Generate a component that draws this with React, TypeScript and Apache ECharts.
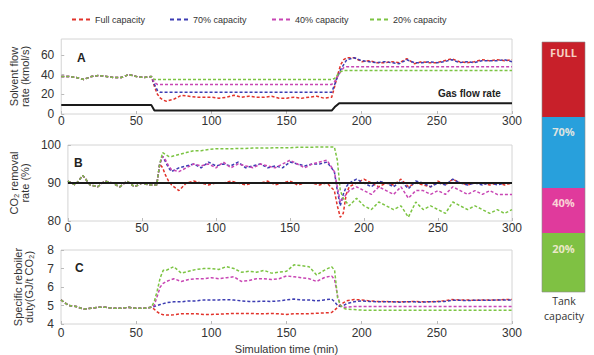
import React, { useEffect, useRef } from "react";
import * as echarts from "echarts";

// time axis (min)
const T_PRE = [0, 5, 10, 15, 20, 25, 30, 35, 40, 45, 50, 55, 60];
const T_ON = [62, 64, 66, 68, 70, 75, 80, 85, 90, 95, 100, 105, 110, 115, 120, 125, 130, 135, 140, 145, 150, 155, 160, 165, 170, 175, 180];
const T_OFF = [182, 184, 186, 188, 190, 195, 200, 205, 210, 215, 220, 225, 230, 235, 240, 245, 250, 255, 260, 265, 270, 275, 280, 285, 290, 295, 300];

const NAMES = ["Full capacity", "70% capacity", "40% capacity", "20% capacity"];
const COLORS = ["#e2332b", "#3d3db3", "#c846b4", "#7cc443"];

// Panel A: solvent flow rate (kmol/s)
const PRE_A = [38, 38, 37, 35, 38, 39, 38, 37, 37, 40, 38, 37, 38];
const FULL_A_ON = [28, 20, 16, 14, 13, 15, 19, 18, 17, 17, 17, 16, 17, 19, 17, 18, 17, 17, 18, 16, 16, 17, 16, 17, 18, 16, 17];
const FULL_A_OFF = [28, 40, 50, 55, 57, 57, 53, 54, 52, 52, 53, 52, 56, 51, 53, 52, 52, 54, 56, 53, 52, 53, 55, 54, 55, 54, 55];
const P70_A_ON = [30, 24, 22, 22, 22, 22, 22, 22, 22, 22, 22, 22, 22, 22, 22, 22, 22, 22, 22, 22, 22, 22, 22, 22, 22, 22, 22];
const P70_A_OFF = [30, 38, 45, 50, 55, 57, 54, 53, 52, 53, 52, 51, 55, 52, 52, 53, 52, 53, 55, 52, 53, 52, 54, 54, 54, 55, 53];
const P40_A_ON = [32, 30, 30, 30, 30, 30, 30, 30, 30, 30, 30, 30, 30, 30, 30, 30, 30, 30, 30, 30, 30, 30, 30, 30, 30, 30, 30];
const P40_A_OFF = [33, 38, 43, 47, 48, 48, 48, 48, 48, 48, 48, 48, 48, 48, 48, 48, 48, 48, 48, 48, 48, 48, 48, 48, 48, 48, 48];
const P20_A_ON = [35, 35, 35, 35, 35, 35, 35, 35, 35, 35, 35, 35, 35, 35, 35, 35, 35, 35, 35, 35, 35, 35, 35, 35, 35, 35, 35];
const P20_A_OFF = [36, 40, 43, 44, 44, 44, 44, 44, 44, 44, 44, 44, 44, 44, 44, 44, 44, 44, 44, 44, 44, 44, 44, 44, 44, 44, 44];
const GAS_T = [0, 60, 62, 180, 182, 185, 300];
const GAS_V = [9, 9, 3.5, 3.5, 7, 11, 11];

// Panel B: CO2 removal rate (%)
const PRE_B = [90.5, 89.5, 92, 89.5, 89, 90.5, 90, 89, 90.5, 89, 90, 89.5, 89.5];
const FULL_B_ON = [95, 94, 92, 90.5, 89.5, 88, 90, 90.5, 90, 89.5, 90, 90, 90.5, 90, 89.5, 90, 90, 90.5, 89.5, 90, 90.5, 89.5, 90, 90, 89.5, 90, 88];
const FULL_B_OFF = [84, 81, 82, 87, 89, 90, 91, 90, 89, 90, 89.5, 91, 89, 90, 89.5, 89, 90.5, 89.5, 91, 90, 89.5, 90, 90, 89.5, 90, 89.5, 90];
const P70_B_ON = [95, 97, 95.5, 94, 93, 94, 94.5, 95, 94, 95.5, 94.5, 95, 94.5, 95.5, 94, 94.5, 95, 94, 94.5, 94, 95.5, 95, 94.5, 95, 95, 95.5, 93];
const P70_B_OFF = [88, 84, 87, 89, 90, 91, 90, 89, 90.5, 90, 89, 90.5, 88.5, 90.5, 90, 89, 90, 89.5, 91, 90, 89.5, 90, 89.5, 90, 89.5, 90, 90];
const P40_B_ON = [95, 97, 96, 94.5, 93.5, 93, 94, 95, 94.5, 95, 94, 95.5, 94, 95, 94.5, 94, 95, 94.5, 94, 95, 96, 95, 94, 95, 95.5, 96, 93];
const P40_B_OFF = [89, 85, 86, 87, 88, 89, 88, 87, 89, 88, 87, 89, 86, 88, 88, 87, 88, 87, 89, 88, 87, 88, 87, 88, 87, 87, 87];
const P20_B_ON = [95, 98, 97.5, 97, 97, 97.5, 98, 98.5, 98.5, 98.8, 99, 99, 99, 99.1, 99.1, 99.2, 99.2, 99.2, 99.3, 99.3, 99.3, 99.4, 99.4, 99.4, 99.5, 99.5, 99.5];
const P20_B_OFF = [96, 88, 86, 85, 84, 86, 84, 83, 85, 84, 83, 84, 81, 85, 83, 84, 83, 82, 85, 84, 83, 84, 83, 82, 83, 82, 83];
const TARGET_T = [0, 300];
const TARGET_V = [90, 90];

// Panel C: specific reboiler duty (GJ/t CO2)
const PRE_C = [5.3, 5.0, 4.95, 4.8, 4.85, 4.9, 4.9, 4.85, 4.85, 4.9, 4.85, 4.85, 4.9];
const FULL_C_ON = [4.8, 4.65, 4.55, 4.5, 4.48, 4.5, 4.55, 4.55, 4.55, 4.52, 4.52, 4.53, 4.55, 4.57, 4.57, 4.57, 4.56, 4.55, 4.57, 4.55, 4.52, 4.55, 4.55, 4.56, 4.58, 4.6, 4.62];
const FULL_C_OFF = [4.75, 4.9, 5.05, 5.15, 5.25, 5.32, 5.3, 5.25, 5.22, 5.22, 5.2, 5.2, 5.2, 5.22, 5.2, 5.2, 5.22, 5.25, 5.32, 5.3, 5.3, 5.28, 5.3, 5.3, 5.3, 5.32, 5.32];
const P70_C_ON = [4.95, 5.0, 5.05, 5.1, 5.15, 5.2, 5.2, 5.25, 5.25, 5.3, 5.3, 5.3, 5.32, 5.3, 5.25, 5.22, 5.22, 5.23, 5.22, 5.25, 5.3, 5.35, 5.3, 5.3, 5.25, 5.3, 5.35];
const P70_C_OFF = [5.2, 5.0, 4.95, 5.0, 5.1, 5.2, 5.25, 5.22, 5.2, 5.2, 5.2, 5.18, 5.2, 5.2, 5.18, 5.2, 5.2, 5.22, 5.28, 5.28, 5.27, 5.28, 5.28, 5.28, 5.3, 5.3, 5.3];
const P40_C_ON = [5.0, 5.5, 6.0, 6.2, 6.3, 6.45, 6.3, 6.4, 6.45, 6.45, 6.5, 6.45, 6.5, 6.55, 6.3, 6.35, 6.45, 6.45, 6.4, 6.45, 6.6, 6.55, 6.5, 6.45, 6.3, 6.5, 6.6];
const P40_C_OFF = [6.4, 5.5, 5.0, 4.9, 4.9, 4.95, 4.95, 4.95, 4.95, 4.95, 4.95, 4.95, 4.95, 4.95, 4.95, 4.95, 4.95, 4.95, 4.95, 4.95, 4.95, 4.95, 4.95, 4.95, 4.95, 4.95, 4.95];
const P20_C_ON = [5.2, 5.8, 6.5, 6.9, 6.9, 7.1, 6.75, 6.85, 6.95, 7.0, 7.0, 6.95, 7.1, 7.0, 6.8, 6.85, 6.8, 6.9, 6.75, 6.8, 6.85, 7.2, 7.15, 7.1, 6.65, 6.9, 7.1];
const P20_C_OFF = [6.9, 5.4, 5.0, 4.85, 4.8, 4.78, 4.75, 4.75, 4.75, 4.75, 4.75, 4.75, 4.75, 4.75, 4.75, 4.75, 4.75, 4.75, 4.75, 4.75, 4.75, 4.75, 4.75, 4.75, 4.75, 4.75, 4.75];

const PANELS = [
  { pre: PRE_A, on: [FULL_A_ON, P70_A_ON, P40_A_ON, P20_A_ON], off: [FULL_A_OFF, P70_A_OFF, P40_A_OFF, P20_A_OFF], blackT: GAS_T, blackV: GAS_V },
  { pre: PRE_B, on: [FULL_B_ON, P70_B_ON, P40_B_ON, P20_B_ON], off: [FULL_B_OFF, P70_B_OFF, P40_B_OFF, P20_B_OFF], blackT: TARGET_T, blackV: TARGET_V },
  { pre: PRE_C, on: [FULL_C_ON, P70_C_ON, P40_C_ON, P20_C_ON], off: [FULL_C_OFF, P70_C_OFF, P40_C_OFF, P20_C_OFF], blackT: null, blackV: null },
];

const zip = (t: number[], v: number[]) => t.map((x, i) => [x, v[i]]);

const FONT = "Liberation Sans";
const DASH_ICON = "path://M0 0h4v2H0z M7 0h4v2H7z M14 0h4v2h-4z";

export default function App() {
  const ref = useRef<HTMLDivElement>(null);
  useEffect(() => {
    if (!ref.current) return;
    const chart = echarts.init(ref.current, null, { renderer: "svg" });

    const grids = [
      { left: 61, top: 39, width: 451, height: 75 },
      { left: 61, top: 145, width: 451, height: 76 },
      { left: 61, top: 250, width: 451, height: 75 },
    ].map((g) => ({ ...g, show: true, borderColor: "#d4d4d4", borderWidth: 1, backgroundColor: "#fff" }));

    const xAxes = [0, 1, 2].map((i) => ({
      type: "value",
      gridIndex: i,
      min: 0,
      max: 300,
      interval: 50,
      axisLine: { show: false },
      axisTick: { show: true, inside: true, length: 3, lineStyle: { color: "#bbb" } },
      splitLine: { show: false },
      axisLabel: { fontFamily: FONT, fontSize: 12, color: "#333", margin: i === 2 ? 3 : 1 },
      name: i === 2 ? "Simulation time (min)" : "",
      nameLocation: "middle",
      nameGap: 19,
      nameTextStyle: { fontFamily: FONT, fontSize: 11, color: "#333" },
    }));

    const yCfg = [
      { min: 0, max: 76, interval: 20, name: "Solvent flow\nrate (kmol/s)" },
      { min: 80, max: 100, interval: 10, name: "CO\u2082 removal\nrate (%)" },
      { min: 4, max: 8, interval: 1, name: "Specific reboiler\nduty(GJ/t CO\u2082)" },
    ];
    const yAxes = yCfg.map((c, i) => ({
      type: "value",
      gridIndex: i,
      min: c.min,
      max: c.max,
      interval: c.interval,
      axisLine: { show: false },
      axisTick: { show: true, inside: true, length: 3, lineStyle: { color: "#bbb" } },
      splitLine: { show: false },
      axisLabel: { fontFamily: FONT, fontSize: 12, color: "#333", margin: 7, showMaxLabel: i !== 0 },
      name: c.name,
      nameLocation: "middle",
      nameRotate: 90,
      nameGap: 27,
      nameTextStyle: { fontFamily: FONT, fontSize: 11, color: "#333", lineHeight: 11 },
    }));

    const series: any[] = [];
    PANELS.forEach((p, pi) => {
      for (let k = 0; k < 4; k++) {
        series.push({
          type: "line",
          name: NAMES[k],
          xAxisIndex: pi,
          yAxisIndex: pi,
          symbol: "none",
          color: COLORS[k],
          lineStyle: { color: COLORS[k], width: 1.5, type: [3, 2] },
          data: [...zip(T_PRE, p.pre), ...zip(T_ON, p.on[k]), ...zip(T_OFF, p.off[k])],
          z: 2 + k,
        });
      }
      if (p.blackT) {
        series.push({
          type: "line",
          name: "black" + pi,
          xAxisIndex: pi,
          yAxisIndex: pi,
          symbol: "none",
          lineStyle: { color: "#1a1a1a", width: 2 },
          data: zip(p.blackT, p.blackV as number[]),
          z: 10,
        });
      }
    });

    const legendLeft = [67, 165, 267, 365];
    const legends = NAMES.map((n, i) => ({
      data: [{ name: n, icon: DASH_ICON }],
      left: legendLeft[i],
      top: 10,
      itemWidth: 18,
      itemHeight: 2,
      textStyle: { fontFamily: FONT, fontSize: 9, color: "#333" },
      selectedMode: false,
    }));

    const barX = 542;
    const barW = 43;
    const segs = [
      { y: 42, h: 75, c: "#c8202a", t: "FULL", ty: 52 },
      { y: 117, h: 71, c: "#28a0dc", t: "70%", ty: 131 },
      { y: 188, h: 45, c: "#e03a9c", t: "40%", ty: 202 },
      { y: 233, h: 59, c: "#7fc143", t: "20%", ty: 248 },
    ];
    const graphic: any[] = [];
    segs.forEach((s) => {
      graphic.push({ type: "rect", shape: { x: barX, y: s.y, width: barW, height: s.h }, style: { fill: s.c } });
      graphic.push({
        type: "text",
        x: barX + barW / 2,
        y: s.ty,
        style: { text: s.t, fill: "rgba(255,240,225,0.85)", font: "bold 11px 'Open Sans'", textAlign: "center", textVerticalAlign: "middle" },
      });
    });
    graphic.push({ type: "rect", shape: { x: barX, y: 42, width: barW, height: 250 }, style: { fill: "none", stroke: "#8a8a8a", lineWidth: 0.6 } });
    graphic.push({ type: "text", x: 564, y: 301, style: { text: "Tank", fill: "#333", font: "10.5px 'Open Sans'", textAlign: "center", textVerticalAlign: "middle" } });
    graphic.push({ type: "text", x: 564, y: 316, style: { text: "capacity", fill: "#333", font: "10.5px 'Open Sans'", textAlign: "center", textVerticalAlign: "middle" } });
    graphic.push({ type: "text", x: 77, y: 58, style: { text: "A", fill: "#222", font: "bold 12px 'Liberation Sans'", textVerticalAlign: "middle" } });
    graphic.push({ type: "text", x: 74, y: 163, style: { text: "B", fill: "#222", font: "bold 12px 'Liberation Sans'", textVerticalAlign: "middle" } });
    graphic.push({ type: "text", x: 75, y: 268, style: { text: "C", fill: "#222", font: "bold 12px 'Liberation Sans'", textVerticalAlign: "middle" } });
    graphic.push({ type: "text", x: 438, y: 93, style: { text: "Gas flow rate", fill: "#222", font: "bold 10px 'Liberation Sans'", textVerticalAlign: "middle" } });

    chart.setOption({
      animation: false,
      backgroundColor: "#fff",
      grid: grids,
      xAxis: xAxes,
      yAxis: yAxes,
      legend: legends,
      series,
      graphic,
    });
    return () => chart.dispose();
  }, []);
  return <div ref={ref} style={{ position: "fixed", left: 0, top: 0, width: 594, height: 355 }} />;
}
